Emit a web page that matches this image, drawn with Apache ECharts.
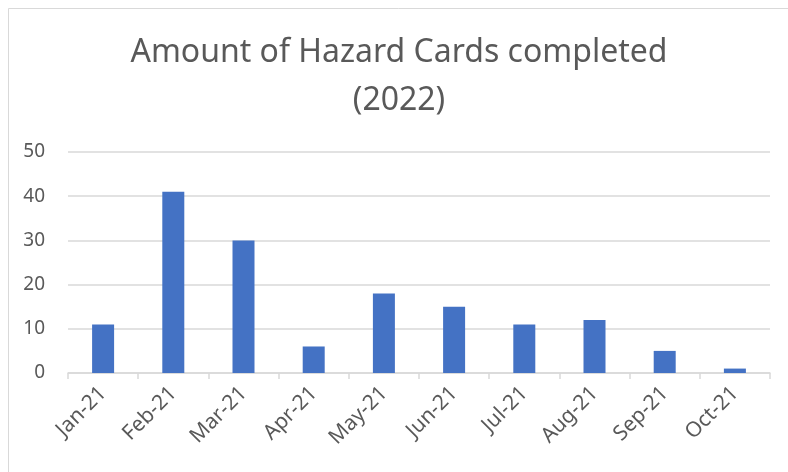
<!DOCTYPE html>
<html>
<head>
<meta charset="utf-8">
<script src="https://cdn.jsdelivr.net/npm/echarts@6/dist/echarts.min.js"></script>
<style>
  html, body { margin: 0; padding: 0; background: #fff; }
  #chart { width: 788px; height: 472px; }
</style>
</head>
<body>
<div id="chart"></div>
<script>
var months = ['Jan-21', 'Feb-21', 'Mar-21', 'Apr-21', 'May-21', 'Jun-21', 'Jul-21', 'Aug-21', 'Sep-21', 'Oct-21'];
var cardsDone = [11, 41, 30, 6, 18, 15, 11, 12, 5, 1];
var titleLines = ['Amount of Hazard Cards completed', '(2022)'];

(function () {
  var myChart = echarts.init(document.getElementById('chart'));
  var font = 'Noto Sans';
  var option = {
    backgroundColor: '#fff',
    animation: false,
    graphic: [{
      type: 'rect',
      shape: { x: 8.5, y: 8.5, width: 790, height: 480 },
      style: { fill: 'none', stroke: '#d9d9d9', lineWidth: 1 }
    }],
    title: {
      text: titleLines.join('\n'),
      left: 394,
      textAlign: 'center',
      top: 24,
      textStyle: {
        fontFamily: font,
        fontWeight: 'normal',
        fontSize: 32,
        color: '#595959',
        lineHeight: 48
      }
    },
    grid: { left: 68, right: 18, top: 152, bottom: 99 },
    xAxis: {
      type: 'category',
      data: months,
      axisLine: { lineStyle: { color: '#d9d9d9', width: 1.5 } },
      axisTick: { show: true, length: 6, lineStyle: { color: '#d9d9d9', width: 1.5 } },
      axisLabel: {
        rotate: 45,
        margin: 17,
        fontFamily: font,
        fontSize: 21,
        color: '#595959'
      }
    },
    yAxis: {
      type: 'value',
      min: 0,
      max: 50,
      interval: 10,
      axisLine: { show: false },
      axisTick: { show: false },
      axisLabel: { fontFamily: font, fontSize: 19, color: '#595959', margin: 23 },
      splitLine: { lineStyle: { color: '#d9d9d9', width: 1.5 } }
    },
    series: [{
      type: 'bar',
      data: cardsDone,
      barWidth: 22,
      itemStyle: { color: '#4472c4' }
    }]
  };
  myChart.setOption(option);
})();
</script>
</body>
</html>
